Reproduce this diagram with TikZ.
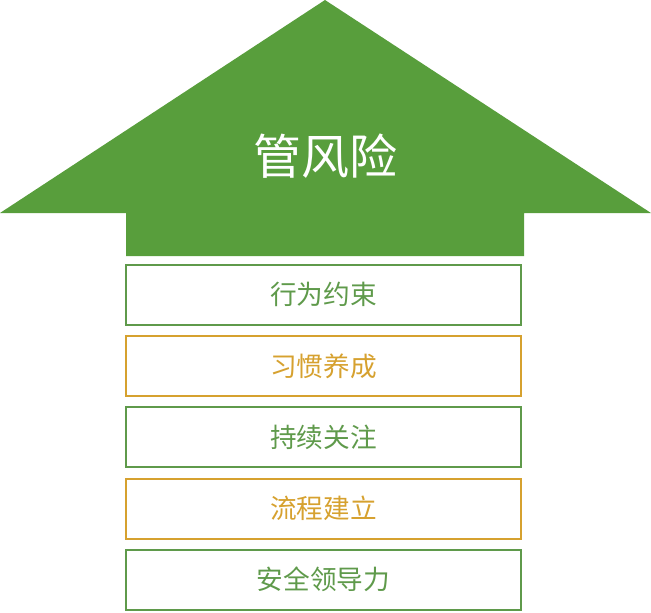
\documentclass[tikz,border=0pt]{standalone}
\usepackage{fontspec}
\newfontfamily\cjk{Noto Sans CJK SC}
\definecolor{arrowgreen}{RGB}{88,158,60}
\definecolor{boxgreen}{RGB}{95,154,75}
\definecolor{boxorange}{RGB}{214,161,47}
\tikzset{
  stepbox/.style={draw, line width=1.5pt, minimum width=296pt, minimum height=45pt,
    inner sep=0pt, font=\cjk\fontsize{20}{20}\selectfont},
}
\begin{document}
\begin{tikzpicture}[x=0.75pt,y=-0.75pt]
  \useasboundingbox (0,0) rectangle (651,612);
  % big arrow
  \fill[arrowgreen] (325,0) -- (651,213) -- (524,213) -- (524,256)
    -- (126,256) -- (126,213) -- (0,213) -- cycle;
  \node[text=white, font=\cjk\fontsize{36}{36}\selectfont] (title) at (325,156) {管风险};
  % steps
  \foreach \txt/\col/\y [count=\i] in {行为约束/boxgreen/294.5, 习惯养成/boxorange/366,
      持续关注/boxgreen/437, 流程建立/boxorange/508.5, 安全领导力/boxgreen/579.5}
    \node[stepbox, draw=\col, text=\col] (step\i) at (323.5,\y) {\txt};
\end{tikzpicture}
\end{document}
